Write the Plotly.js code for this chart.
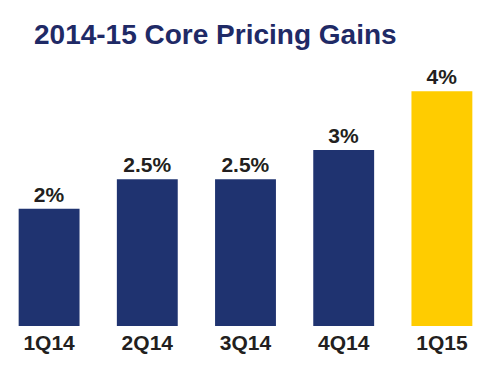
<!DOCTYPE html>
<html><head><meta charset="utf-8">
<script src="https://cdn.plot.ly/plotly-3.0.1.min.js"></script>
<style>html,body{margin:0;padding:0;background:#fff}</style>
</head><body>
<div id="chart" style="width:491px;height:374px"></div>
<script>
const categories = ["1Q14", "2Q14", "3Q14", "4Q14", "1Q15"];
const values = [2, 2.5, 2.5, 3, 4];
const valueLabels = ["2%", "2.5%", "2.5%", "3%", "4%"];
const barColors = ["#1F3370", "#1F3370", "#1F3370", "#1F3370", "#FFCC00"];

const trace = {
  type: "bar",
  x: categories,
  y: values,
  text: valueLabels,
  textposition: "outside",
  cliponaxis: false,
  textfont: {family: "Liberation Sans, Arial, sans-serif", size: 21, color: "#231F20", weight: "bold"},
  marker: {color: barColors, line: {width: 0}},
  hoverinfo: "none"
};

const layout = {
  width: 491, height: 374,
  margin: {l: 0, r: 0, t: 62, b: 48, pad: 0},
  paper_bgcolor: "#fff", plot_bgcolor: "#fff",
  bargap: 0.38,
  showlegend: false,
  title: {
    text: "<b>2014-15 Core Pricing Gains</b>",
    font: {family: "Liberation Sans, Arial, sans-serif", size: 28, color: "#1F2A66"},
    x: 34/491, xref: "container", xanchor: "left",
    y: 1 - 24/374, yref: "container", yanchor: "top"
  },
  xaxis: {
    showgrid: false, zeroline: false, showline: false, ticks: "",
    tickfont: {family: "Liberation Sans, Arial, sans-serif", size: 21, color: "#231F20", weight: "bold"},
    ticklabelstandoff: 2
  },
  yaxis: {range: [0, 4.5], visible: false, showgrid: false, zeroline: false, fixedrange: true}
};

Plotly.newPlot("chart", [trace], layout, {staticPlot: true, displayModeBar: false});
</script>
</body></html>
